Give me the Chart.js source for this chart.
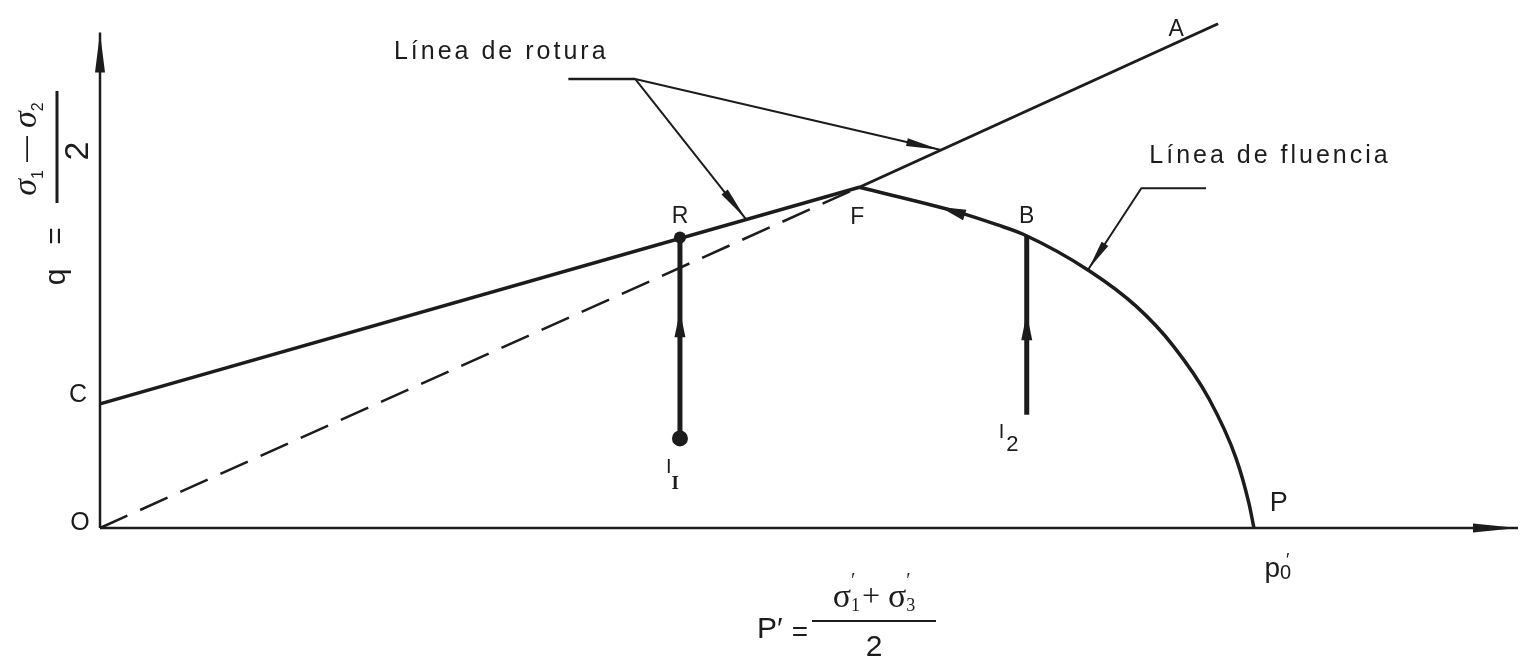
<!DOCTYPE html>
<html lang="es">
<head>
<meta charset="UTF-8">
<title>Línea de rotura y línea de fluencia</title>
<script src="https://cdn.jsdelivr.net/npm/chart.js"></script>
<style>
  html, body { margin: 0; padding: 0; background: #fff; }
  #wrap { width: 1526px; height: 669px; position: relative; }
</style>
</head>
<body>
<div id="wrap"><canvas id="diagram"></canvas></div>
<script>
// plano p' - q (unidades arbitrarias)
const ejeX = [[0, 0], [142.3, 0]];
const ejeY = [[0, 0], [0, 50.3]];
const roturaCF = [[0, 12.6], [76.2, 34.6]];      // C -> F
const roturaFA = [[76.2, 34.6], [112.2, 51.2]];  // F -> A
const lineaOF = [[0, 0], [76.2, 34.6]];          // O -> F (discontinua)
const fluenciaX = [76.2, 86, 90, 92.7, 99.3, 104, 107.7, 111.3, 114, 115.3, 115.8];
const fluenciaY = [34.6, 32.1, 30.8, 29.8, 26.1, 22.5, 18.5, 13.1, 7.1, 2.5, 0];
const trayectoria1 = [[58.2, 9.1], [58.2, 29.5]];  // I1 -> R
const trayectoria2 = [[93, 11.5], [93, 29.7]];     // I2 -> B
const puntosR = [[58.2, 29.5], [58.2, 9.1]];
const guiaRotura = [[47, 45.6], [53.7, 45.6]];
const flechaRotura1 = [[53.7, 45.6], [64.8, 31.4]];
const flechaRotura2 = [[53.7, 45.6], [84.3, 38.4]];
const guiaFluencia = [[111, 34.5], [104.5, 34.5], [99.2, 26.3]];

// puntas de flecha: punta, punto de origen de la dirección
const flechas = [
  { tip: [0, 50.3], from: [0, 0], len: 40, w: 10 },
  { tip: [142.3, 0], from: [0, 0], len: 45, w: 9 },
  { tip: [58.2, 22.0], from: [58.2, 9.1], len: 26, w: 11 },
  { tip: [93, 21.8], from: [93, 11.5], len: 27, w: 11 },
  { tip: [84.3, 32.6], from: [86.7, 31.8], len: 26, w: 11 },
  { tip: [64.8, 31.4], from: [53.7, 45.6], len: 34, w: 8 },
  { tip: [84.3, 38.4], from: [53.7, 45.6], len: 34, w: 8 },
  { tip: [99.2, 26.3], from: [104.5, 34.5], len: 30, w: 8 }
];

const etiquetas = [
  { t: 'Línea de rotura', x: 29.5, y: 48.3, align: 'left', size: 25, sp: 3 },
  { t: 'Línea de fluencia', x: 105.3, y: 37.8, align: 'left', size: 25, sp: 3 },
  { t: 'A', x: 108, y: 50.6, size: 23 },
  { t: 'R', x: 58.2, y: 31.6, size: 23 },
  { t: 'F', x: 76, y: 31.5, size: 23 },
  { t: 'B', x: 93, y: 31.6, size: 23 },
  { t: 'C', x: -2.2, y: 13.5, size: 25 },
  { t: 'O', x: -2, y: 0.5, size: 25 },
  { t: 'P', x: 118.3, y: 2.5, size: 27 }
];

const pts = arr => arr.map(([x, y]) => ({ x, y }));
const ink = '#1c1c1c';

function linea(data, width, extra) {
  return Object.assign({
    data: pts(data), showLine: true, pointRadius: 0,
    borderColor: ink, borderWidth: width, clip: false
  }, extra || {});
}

function drawRun(ctx, pieces, x, y, align) {
  let total = 0;
  pieces.forEach(p => { ctx.font = p.f; if (!p.stay) total += ctx.measureText(p.t).width + (p.gap || 0); });
  let cx = align === 'left' ? x : x - total / 2;
  pieces.forEach(p => {
    ctx.font = p.f;
    ctx.fillText(p.t, cx + (p.dx || 0), y + (p.dy || 0));
    if (!p.stay) cx += ctx.measureText(p.t).width + (p.gap || 0);
  });
}

const dibujo = {
  id: 'dibujo',
  afterDatasetsDraw(chart) {
    const { ctx, scales: { x, y } } = chart;
    const px = v => x.getPixelForValue(v);
    const py = v => y.getPixelForValue(v);
    ctx.save();
    ctx.fillStyle = ink;

    flechas.forEach(f => {
      const tx = px(f.tip[0]), ty = py(f.tip[1]);
      const fx = px(f.from[0]), fy = py(f.from[1]);
      const d = Math.hypot(tx - fx, ty - fy);
      const ux = (tx - fx) / d, uy = (ty - fy) / d;
      const bx = tx - ux * f.len, by = ty - uy * f.len;
      ctx.beginPath();
      ctx.moveTo(tx, ty);
      ctx.lineTo(bx - uy * f.w / 2, by + ux * f.w / 2);
      ctx.lineTo(bx + uy * f.w / 2, by - ux * f.w / 2);
      ctx.closePath();
      ctx.fill();
    });

    ctx.textBaseline = 'middle';
    etiquetas.forEach(e => {
      ctx.font = e.size + 'px "Liberation Sans", Arial, sans-serif';
      ctx.letterSpacing = (e.sp || 0) + 'px';
      ctx.textAlign = e.align || 'center';
      ctx.fillText(e.t, px(e.x), py(e.y));
    });
    ctx.letterSpacing = '0px';
    ctx.textAlign = 'left';

    const sans = s => s + 'px "Liberation Sans", Arial, sans-serif';
    const serif = s => s + 'px "Liberation Serif", "DejaVu Serif", serif';

    // I1 e I2
    drawRun(ctx, [{ t: 'I', f: sans(20) }, { t: 'I', f: 'bold ' + serif(19), dy: 16 }], px(58.2) - 14, py(6.1), 'left');
    drawRun(ctx, [{ t: 'I', f: sans(20) }, { t: '2', f: sans(22), dy: 12, dx: 2 }], px(93) - 28, py(9.7), 'left');
    // p'0
    drawRun(ctx, [{ t: 'p', f: sans(28) }, { t: '′', f: sans(18), dy: -8, dx: 6, stay: true }, { t: '0', f: sans(20), dy: 4 }], px(118.2), py(-4.2), 'center');

    // eje q (texto girado)
    ctx.save();
    ctx.translate(57, 277);
    ctx.rotate(-Math.PI / 2);
    ctx.textBaseline = 'middle';
    drawRun(ctx, [{ t: 'q', f: sans(30) }], 0, 0, 'center');
    drawRun(ctx, [{ t: '=', f: sans(30) }], 41, 0, 'center');
    ctx.fillRect(74, -1.5, 112, 3);
    drawRun(ctx, [
      { t: 'σ', f: 'italic ' + serif(34) }, { t: '1', f: sans(16), dy: 12, gap: 8 },
      { t: '—', f: sans(26), gap: 8 },
      { t: 'σ', f: 'italic ' + serif(34) }, { t: '2', f: sans(16), dy: 12 }
    ], 128, -30, 'center');
    drawRun(ctx, [{ t: '2', f: sans(34) }], 126, 22, 'center');
    ctx.restore();

    // eje p'
    ctx.textBaseline = 'middle';
    drawRun(ctx, [{ t: 'P′', f: sans(30) }], 757, 630, 'left');
    drawRun(ctx, [{ t: '=', f: sans(28) }], 800, 633, 'center');
    ctx.fillRect(812, 620, 124, 2);
    drawRun(ctx, [
      { t: 'σ', f: serif(34) }, { t: '′', f: serif(20), dy: -16, stay: true }, { t: '1', f: serif(18), dy: 8, gap: 2 },
      { t: '+ ', f: serif(32) },
      { t: 'σ', f: serif(34) }, { t: '′', f: serif(20), dy: -16, stay: true }, { t: '3', f: serif(18), dy: 8 }
    ], 874, 598, 'center');
    drawRun(ctx, [{ t: '2', f: sans(30) }], 874, 648, 'center');
    ctx.restore();
  }
};

new Chart(document.getElementById('diagram'), {
  type: 'scatter',
  data: {
    datasets: [
      linea(ejeX, 2.5),
      linea(ejeY, 2.5),
      linea(lineaOF, 2.5, { borderDash: [30, 14] }),
      linea(roturaCF, 3.5),
      linea(roturaFA, 3),
      linea(fluenciaX.map((v, i) => [v, fluenciaY[i]]), 3.5, { cubicInterpolationMode: 'monotone' }),
      linea(trayectoria1, 5),
      linea(trayectoria2, 5),
      linea(guiaRotura, 2.5),
      linea(flechaRotura1, 2),
      linea(flechaRotura2, 2),
      linea(guiaFluencia, 2),
      { data: pts(puntosR), showLine: false, pointRadius: [6, 8], pointBackgroundColor: ink, pointBorderWidth: 0, clip: false }
    ]
  },
  options: {
    responsive: true,
    maintainAspectRatio: false,
    animation: false,
    layout: { padding: { left: 100, right: 3, top: 0, bottom: 141 } },
    scales: {
      x: { type: 'linear', min: 0, max: 142.3, display: false },
      y: { type: 'linear', min: 0, max: 52.8, display: false }
    },
    plugins: { legend: { display: false }, tooltip: { enabled: false } }
  },
  plugins: [dibujo]
});
</script>
</body>
</html>
